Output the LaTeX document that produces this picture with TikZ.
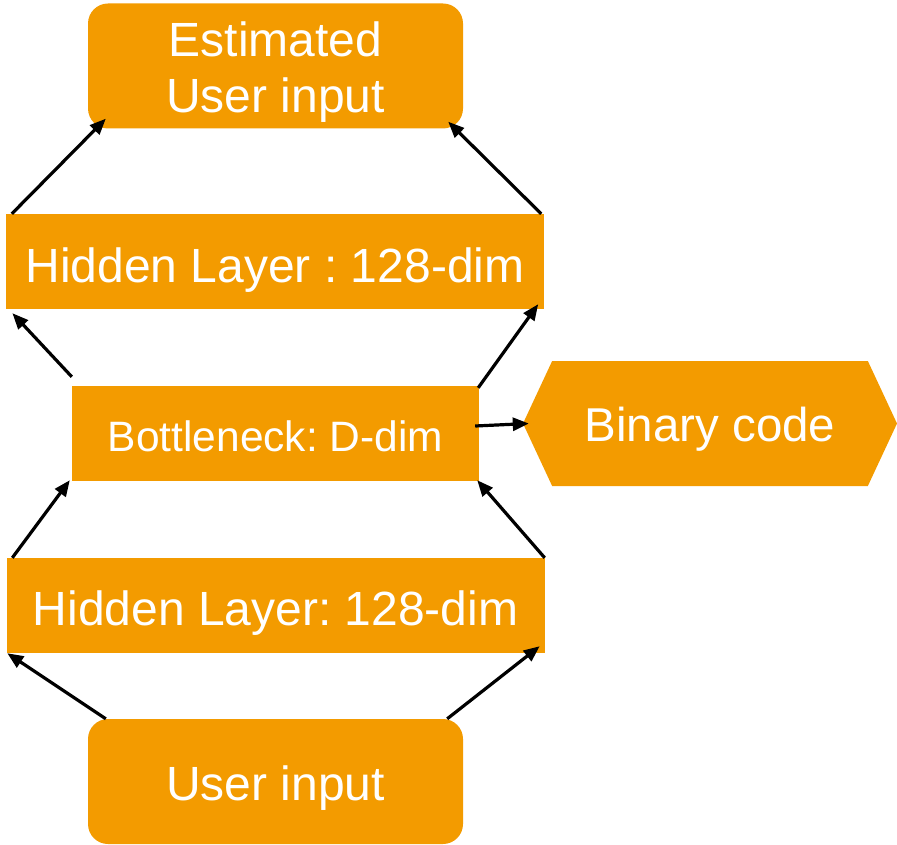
\documentclass[tikz,border=0pt]{standalone}
\usepackage{fontspec}
\setmainfont{Liberation Sans}
\frenchspacing
\usetikzlibrary{arrows.meta,calc,shapes.symbols}
\definecolor{boxorange}{HTML}{F39B00}
\tikzset{
  blk/.style={fill=boxorange, draw=none, text=white, inner sep=0pt, align=center,
    font=\fontsize{48}{56}\selectfont},
  txt/.style={text=white, inner sep=0pt, align=center, font=\fontsize{48}{56}\selectfont},
  rbox/.style={blk, rounded corners=20pt, minimum width=375pt, minimum height=125pt},
  layer/.style={blk, minimum width=538pt, minimum height=95pt},
  conn/.style={line width=3.2pt, -{Triangle[length=16pt,width=13pt]}}
}
\begin{document}
\begin{tikzpicture}[x=1pt,y=-1pt]
\useasboundingbox (0,0) rectangle (897,845);
\node[rbox] (est) at (275.5,66) {};
\node[txt] (esttext) at ($(est.center)+(0,6.5)$) {Estimated\\User input};
\node[layer, text height=43pt, text depth=0pt] (h2) at (275,261.5) {Hidden Layer : 128-dim};
\node[blk, minimum width=407pt, minimum height=95pt, text height=35pt, text depth=0pt,
  font=\fontsize{42.5}{50}\selectfont] (bn) at (275.5,433.5) {Bottleneck: D-dim};
\node[blk, shape=signal, signal to=west and east, signal pointer angle=130,
  minimum width=374pt, minimum height=125pt, text height=36pt, text depth=0pt,
  font=\fontsize{47.5}{56}\selectfont] (bin) at (710,423.5) {Binary code};
\node[layer, text height=39pt, text depth=0pt] (h1) at (275.5,605.5) {Hidden Layer: 128-dim};
\node[rbox, text height=38pt, text depth=0pt] (usr) at (275.5,781.5) {User input};

\draw[conn] ($(h2.north west)+(6,0)$) -- ($(est.south west)+(18,-10)$);
\draw[conn] ($(h2.north east)+(-3,0)$) -- ($(est.south east)+(-15,-7)$);
\draw[conn] ($(bn.north west)+(0,-9)$) -- ($(h2.south west)+(6.6,4)$);
\draw[conn] ($(bn.north east)+(-1,2)$) -- ($(h2.south east)+(-6,-5)$);
\draw[conn] ($(bn.east)+(-4,-7.5)$) -- ($(bin.west)+(6,0)$);
\draw[conn] ($(h1.north west)+(6,0)$) -- ($(bn.south west)+(-2,-1)$);
\draw[conn] ($(h1.north east)+(0,0)$) -- ($(bn.south east)+(-2,-1)$);
\draw[conn] ($(usr.north west)+(18,0)$) -- ($(h1.south west)+(1,0)$);
\draw[conn] ($(usr.north east)+(-16,0)$) -- ($(h1.south east)+(-5,-7)$);
\end{tikzpicture}
\end{document}
